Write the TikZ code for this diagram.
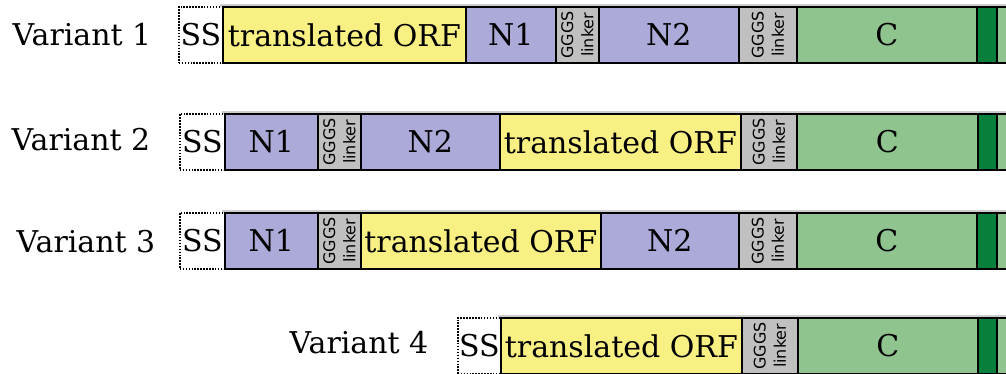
\documentclass[tikz,border=0pt]{standalone}
\usepackage{fontspec}
\setmainfont{DejaVu Serif}
\newfontfamily\linkfont{DejaVu Sans}
\definecolor{orfc}{RGB}{249,240,132}
\definecolor{nsegc}{RGB}{172,170,216}
\definecolor{lnkc}{RGB}{192,192,192}
\definecolor{csegc}{RGB}{143,196,143}
\definecolor{dgreenc}{RGB}{8,128,60}
\definecolor{haloc}{RGB}{205,205,205}
\begin{document}
\begin{tikzpicture}[x=0.75pt,y=-0.75pt,
  seg/.style={draw=black, line width=1.3pt, inner sep=0pt, anchor=north west,
    minimum height=42pt, font=\fontsize{22.5}{27}\selectfont},
  sigbox/.style={seg, fill=white, line width=1.2pt, dash pattern=on 1.1pt off 1.1pt},
  orfbox/.style={seg, fill=orfc},
  nbox/.style={seg, fill=nsegc},
  lbox/.style={seg, fill=lnkc},
  cbox/.style={seg, fill=csegc},
  dbox/.style={seg, fill=dgreenc},
  halo/.style={draw=haloc, line width=2.4pt},
  lnktxt/.style={rotate=90, inner sep=0pt,
    font=\linkfont\fontsize{12}{14}\selectfont},
  varlab/.style={inner sep=0pt, font=\fontsize{22.5}{27}\selectfont}]
\useasboundingbox (0,0) rectangle (1006,374);
\clip (0,0) rectangle (1006,374);
% faint halo behind each row
\draw[halo] (222,6) rectangle (1010,62);
\draw[halo] (224,113) rectangle (1010,169);
\draw[halo] (224,212) rectangle (1010,268);
\draw[halo] (500,317) rectangle (1010,373);
% Row 1
\node[varlab] (v1) at (82,35) {Variant 1};
\node[sigbox, minimum width=33pt] (a1) at (178,6) {SS};
\node[orfbox, minimum width=182.25pt] (a2) at (222,6) {translated ORF};
\node[nbox, minimum width=67.5pt] (a3) at (465,6) {N1};
\node[lbox, minimum width=32.25pt] (a4) at (555,6) {};
\node[nbox, minimum width=105pt] (a5) at (598,6) {N2};
\node[lbox, minimum width=43.5pt] (a6) at (738,6) {};
\node[cbox, minimum width=135pt] (a7) at (796,6) {C};
\node[dbox, minimum width=15pt] (a8) at (976,6) {};
\node[cbox, minimum width=22.5pt] (a9) at (996,6) {};
\node[lnktxt] (a4g) at ([xshift=-7.5pt]a4.center) {GGGS};
\node[lnktxt] (a4l) at ([xshift=7.5pt]a4.center) {linker};
\node[lnktxt] (a6g) at ([xshift=-7.5pt]a6.center) {GGGS};
\node[lnktxt] (a6l) at ([xshift=7.5pt]a6.center) {linker};
% Row 2
\node[varlab] (v2) at (81,140) {Variant 2};
\node[sigbox, minimum width=33.75pt] (b1) at (179,113) {SS};
\node[nbox, minimum width=69.75pt] (b2) at (224,113) {N1};
\node[lbox, minimum width=32.25pt] (b3) at (317,113) {};
\node[nbox, minimum width=104.25pt] (b4) at (360,113) {N2};
\node[orfbox, minimum width=180.75pt] (b5) at (499,113) {translated ORF};
\node[lbox, minimum width=42pt] (b6) at (740,113) {};
\node[cbox, minimum width=135.75pt] (b7) at (796,113) {C};
\node[dbox, minimum width=14.25pt] (b8) at (977,113) {};
\node[cbox, minimum width=22.5pt] (b9) at (996,113) {};
\node[lnktxt] (b3g) at ([xshift=-7.5pt]b3.center) {GGGS};
\node[lnktxt] (b3l) at ([xshift=7.5pt]b3.center) {linker};
\node[lnktxt] (b6g) at ([xshift=-7.5pt]b6.center) {GGGS};
\node[lnktxt] (b6l) at ([xshift=7.5pt]b6.center) {linker};
% Row 3
\node[varlab] (v3) at (86,242) {Variant 3};
\node[sigbox, minimum width=33.75pt] (c1) at (179,212) {SS};
\node[nbox, minimum width=69.75pt] (c2) at (224,212) {N1};
\node[lbox, minimum width=32.25pt] (c3) at (317,212) {};
\node[orfbox, minimum width=180pt] (c4) at (360,212) {translated ORF};
\node[nbox, minimum width=103.5pt] (c5) at (600,212) {N2};
\node[lbox, minimum width=43.5pt] (c6) at (738,212) {};
\node[cbox, minimum width=135pt] (c7) at (796,212) {C};
\node[dbox, minimum width=15pt] (c8) at (976,212) {};
\node[cbox, minimum width=22.5pt] (c9) at (996,212) {};
\node[lnktxt] (c3g) at ([xshift=-7.5pt]c3.center) {GGGS};
\node[lnktxt] (c3l) at ([xshift=7.5pt]c3.center) {linker};
\node[lnktxt] (c6g) at ([xshift=-7.5pt]c6.center) {GGGS};
\node[lnktxt] (c6l) at ([xshift=7.5pt]c6.center) {linker};
% Row 4
\node[varlab] (v4) at (359,343) {Variant 4};
\node[sigbox, minimum width=32.25pt] (d1) at (457,317) {SS};
\node[orfbox, minimum width=180.75pt] (d2) at (500,317) {translated ORF};
\node[lbox, minimum width=42pt] (d3) at (741,317) {};
\node[cbox, minimum width=135pt] (d4) at (797,317) {C};
\node[dbox, minimum width=14.25pt] (d5) at (977,317) {};
\node[cbox, minimum width=22.5pt] (d6) at (996,317) {};
\node[lnktxt] (d3g) at ([xshift=-7.5pt]d3.center) {GGGS};
\node[lnktxt] (d3l) at ([xshift=7.5pt]d3.center) {linker};
\end{tikzpicture}
\end{document}
